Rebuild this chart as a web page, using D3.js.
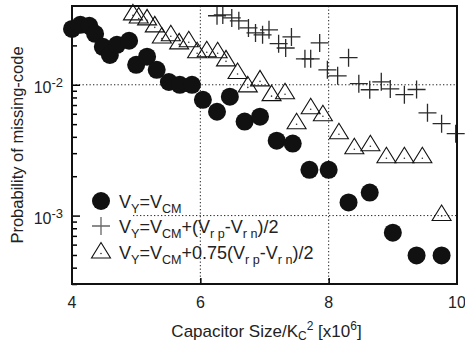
<!DOCTYPE html>
<html>
<head>
<meta charset="utf-8">
<script src="https://cdn.jsdelivr.net/npm/d3@7/dist/d3.min.js"></script>
<style>
body { margin: 0; background: #fff; }
svg { font-family: "Liberation Sans", Arial, sans-serif; }
</style>
</head>
<body>
<svg id="chart" width="465" height="343"></svg>
<script>
// V_Y = V_CM  (filled circles)
var vcmSize = [4.00, 4.13, 4.27, 4.36, 4.48, 4.59, 4.70, 4.89, 5.00, 5.17, 5.32, 5.51, 5.68, 5.87,
	6.04, 6.26, 6.46, 6.69, 6.93, 7.19, 7.44, 7.70, 8.00, 8.31, 8.64, 9.00, 9.37, 9.76];
var vcmProb = [0.0267, 0.0287, 0.0282, 0.0245, 0.0195, 0.0169, 0.0202, 0.0217, 0.0142, 0.0164, 0.0130, 0.0105, 0.0100, 0.0100,
	0.00768, 0.00622, 0.0081, 0.00523, 0.0057, 0.00374, 0.00355, 0.00224, 0.00224, 0.00126, 0.0015, 0.00074, 0.000496, 0.000496];

// V_Y = V_CM + (Vrp - Vrn)/2  (plus)
var halfSize = [6.26, 6.35, 6.49, 6.60, 6.75, 6.86, 6.97, 7.07, 7.22, 7.33, 7.42, 7.63, 7.72, 7.86,
	7.98, 8.14, 8.31, 8.47, 8.64, 8.82, 8.96, 9.18, 9.37, 9.54, 9.76, 9.98];
var halfProb = [0.0337, 0.0342, 0.0324, 0.0308, 0.0272, 0.0249, 0.0241, 0.0263, 0.0206, 0.0191, 0.0232, 0.0158, 0.0158, 0.0209,
	0.0130, 0.0117, 0.0161, 0.0102, 0.00916, 0.01054, 0.0093, 0.0084, 0.0092, 0.0061, 0.00504, 0.00423];

// V_Y = V_CM + 0.75(Vrp - Vrn)/2  (triangles)
var quarterSize = [4.95, 5.04, 5.17, 5.29, 5.40, 5.54, 5.67, 5.82, 5.95, 6.10, 6.27, 6.40, 6.58, 6.74,
	6.93, 7.11, 7.32, 7.50, 7.72, 7.91, 8.16, 8.40, 8.65, 8.90, 9.18, 9.46, 9.76];
var quarterProb = [0.0348, 0.0330, 0.0319, 0.0282, 0.0232, 0.0241, 0.0209, 0.0217, 0.0179, 0.0182, 0.0179, 0.0155, 0.0124, 0.0098,
	0.0109, 0.0084, 0.0087, 0.00513, 0.00667, 0.0059, 0.0043, 0.0033, 0.00348, 0.00282, 0.00282, 0.00282, 0.00102];

var xTicks = [4, 6, 8, 10];
var yMajor = [0.01, 0.001];
var yMajorLabels = [["10", "-2"], ["10", "-3"]];
var yMinor = [0.0003, 0.0004, 0.0005, 0.0006, 0.0007, 0.0008, 0.0009,
	0.002, 0.003, 0.004, 0.005, 0.006, 0.007, 0.008, 0.009, 0.02, 0.03];

var margin = {top: 6, right: 8, bottom: 59, left: 72},
	width = 465 - margin.left - margin.right,
	height = 343 - margin.top - margin.bottom;

var svg = d3.select("#chart");
var g = svg.append("g").attr("transform", "translate(" + margin.left + "," + margin.top + ")");

var x = d3.scaleLinear().domain([4, 10]).range([0, width]);
var y = d3.scaleLog().domain([3e-4, 4e-2]).range([height, 0]);

function zip(xs, ys) {
	return xs.map(function(v, i) { return {x: v, y: ys[i]}; });
}

// dotted grid
g.selectAll(".vgrid")
	.data([6, 8])
	.enter().append("line")
	.attr("x1", function(d) { return x(d); })
	.attr("x2", function(d) { return x(d); })
	.attr("y1", 0).attr("y2", height)
	.attr("stroke", "#222").attr("stroke-width", 1)
	.attr("stroke-dasharray", "1.3,2.2");

// the 10^-3 line is cut where the key sits
g.selectAll(".hgrid")
	.data(yMajor)
	.enter().append("line")
	.attr("x1", function(d) { return d === 0.001 ? 61 : 0; })
	.attr("x2", width)
	.attr("y1", function(d) { return y(d); })
	.attr("y2", function(d) { return y(d); })
	.attr("stroke", "#222").attr("stroke-width", 1)
	.attr("stroke-dasharray", "1.3,2.2");

// inward ticks
var yAxisMinor = d3.axisLeft(y).tickValues(yMinor).tickSizeInner(-5).tickSizeOuter(0).tickFormat("");
var yAxisMajor = d3.axisLeft(y).tickValues(yMajor).tickSizeInner(-8).tickSizeOuter(0).tickFormat("");
var xAxis = d3.axisBottom(x).tickValues([6, 8]).tickSizeInner(-6).tickSizeOuter(0).tickFormat("");

[yAxisMinor, yAxisMajor].forEach(function(ax) {
	var a = g.append("g").call(ax);
	a.select(".domain").remove();
	a.selectAll("line").attr("stroke", "#000").attr("stroke-width", 1.5);
});
var xa = g.append("g").attr("transform", "translate(0," + height + ")").call(xAxis);
xa.select(".domain").remove();
xa.selectAll("line").attr("stroke", "#000").attr("stroke-width", 1.5);

// tick labels
g.selectAll(".xlab")
	.data(xTicks)
	.enter().append("text")
	.attr("x", function(d) { return x(d); })
	.attr("y", height + 24)
	.attr("text-anchor", "middle")
	.attr("font-size", 16)
	.attr("fill", "#222")
	.text(function(d) { return d; });

var ylab = g.selectAll(".ylab")
	.data(yMajor)
	.enter().append("text")
	.attr("x", -9)
	.attr("y", function(d) { return y(d) + 8; })
	.attr("text-anchor", "end")
	.attr("font-size", 16)
	.attr("fill", "#222");
ylab.append("tspan").text(function(d, i) { return yMajorLabels[i][0]; });
ylab.append("tspan").attr("dy", -6).attr("font-size", 13)
	.text(function(d, i) { return yMajorLabels[i][1]; });

// series
g.selectAll(".dot")
	.data(zip(vcmSize, vcmProb))
	.enter().append("circle")
	.attr("cx", function(d) { return x(d.x); })
	.attr("cy", function(d) { return y(d.y); })
	.attr("r", 9)
	.attr("fill", "#111");

var tri = "M0,-9.5L9.5,6L-9.5,6Z";
var triG = g.selectAll(".tri")
	.data(zip(quarterSize, quarterProb))
	.enter().append("g")
	.attr("transform", function(d) { return "translate(" + x(d.x) + "," + y(d.y) + ")"; });
triG.append("path").attr("d", tri).attr("fill", "none").attr("stroke", "#111").attr("stroke-width", 1.1);
triG.append("circle").attr("cy", 1.5).attr("r", 0.8).attr("fill", "#333");

var plus = "M-9,0H9M0,-9V9";
g.selectAll(".plus")
	.data(zip(halfSize, halfProb))
	.enter().append("path")
	.attr("transform", function(d) { return "translate(" + x(d.x) + "," + y(d.y) + ")"; })
	.attr("d", plus)
	.attr("fill", "none")
	.attr("stroke", "#2a2a2a")
	.attr("stroke-width", 1.3);

// frame
g.append("rect")
	.attr("width", width).attr("height", height)
	.attr("fill", "none").attr("stroke", "#111").attr("stroke-width", 2);

// key
var key = [
	{sym: "dot", parts: [["V", 0], ["Y", 1], ["=V", 0], ["CM", 1]]},
	{sym: "plus", parts: [["V", 0], ["Y", 1], ["=V", 0], ["CM", 1], ["+(V", 0], ["r p", 1], ["-V", 0], ["r n", 1], [")/2", 0]]},
	{sym: "tri", parts: [["V", 0], ["Y", 1], ["=V", 0], ["CM", 1], ["+0.75(V", 0], ["r p", 1], ["-V", 0], ["r n", 1], [")/2", 0]]}
];
var keyY = [201, 226, 252];
key.forEach(function(k, i) {
	var cy = keyY[i] - margin.top;
	var sx = 29;
	if (k.sym === "dot") {
		g.append("circle").attr("cx", sx).attr("cy", cy).attr("r", 9).attr("fill", "#111");
	} else if (k.sym === "plus") {
		g.append("path").attr("transform", "translate(" + sx + "," + cy + ")").attr("d", plus)
			.attr("fill", "none").attr("stroke", "#666").attr("stroke-width", 1.3);
	} else {
		var t = g.append("g").attr("transform", "translate(" + sx + "," + cy + ")");
		t.append("path").attr("d", tri).attr("fill", "none").attr("stroke", "#111").attr("stroke-width", 1.1);
		t.append("circle").attr("cy", 1.5).attr("r", 0.8).attr("fill", "#333");
	}
	var txt = g.append("text")
		.attr("x", 47)
		.attr("y", cy + 7)
		.attr("font-size", 18)
		.attr("fill", "#222");
	// subscripts drop 5px, then come back up
	var low = false;
	k.parts.forEach(function(p) {
		var ts = txt.append("tspan").text(p[0]);
		if (p[1] && !low) { ts.attr("dy", 5).attr("font-size", 12.6); low = true; }
		else if (p[1]) { ts.attr("font-size", 12.6); }
		else if (low) { ts.attr("dy", -5); low = false; }
	});
});

// axis titles
svg.append("text")
	.attr("transform", "translate(23," + (margin.top + height / 2) + ") rotate(-90)")
	.attr("text-anchor", "middle")
	.attr("font-size", 16.5)
	.attr("fill", "#222")
	.text("Probability of missing-code");

var xt = svg.append("text")
	.attr("x", margin.left + width / 2 + 2)
	.attr("y", 337)
	.attr("text-anchor", "middle")
	.attr("font-size", 17)
	.attr("fill", "#222");
xt.append("tspan").text("Capacitor Size/K");
xt.append("tspan").attr("dy", 3).attr("font-size", 12).text("C");
xt.append("tspan").attr("dy", -10).attr("font-size", 12).text("2");
xt.append("tspan").attr("dy", 7).text(" [x10");
xt.append("tspan").attr("dy", -7).attr("font-size", 12).text("6");
xt.append("tspan").attr("dy", 7).text("]");
</script>
</body>
</html>
